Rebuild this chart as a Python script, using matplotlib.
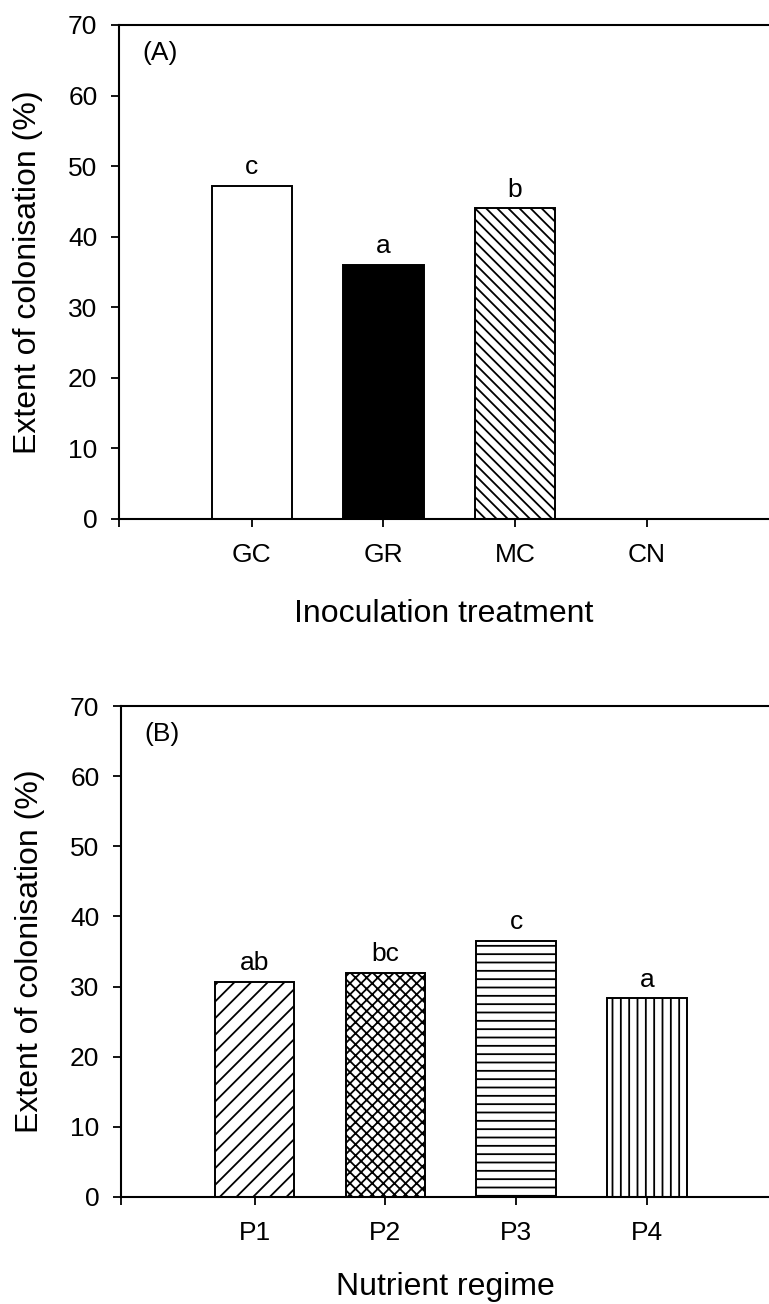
"""Extent of colonisation by inoculation treatment (A) and nutrient regime (B)."""

import matplotlib

matplotlib.use("Agg")
import matplotlib.pyplot as plt  # noqa: E402

plt.rcParams["font.family"] = ["Liberation Sans", "DejaVu Sans"]
plt.rcParams["hatch.linewidth"] = 1.3

# --- data ------------------------------------------------------------------
treatments = ["GC", "GR", "MC", "CN"]
treatment_values = [47.2, 36.0, 44.0, 0.0]
treatment_letters = ["c", "a", "b", ""]
treatment_colors = ["white", "black", "white", "white"]
treatment_hatches = ["", "", "\\\\\\", ""]

regimes = ["P1", "P2", "P3", "P4"]
regime_values = [30.6, 31.9, 36.5, 28.3]
regime_letters = ["ab", "bc", "c", "a"]
regime_hatches = ["//", "xxx", "--", "||"]

yticks = [0, 10, 20, 30, 40, 50, 60, 70]


def draw_panel(ax, cats, values, letters, colors, hatches, tag, xlabel, xleft,
               xlabelpad):
    pos = list(range(len(cats)))
    ax.bar(pos, values, width=0.61, color=colors, hatch=hatches,
           edgecolor="black", linewidth=1.4)
    for x, v, lab in zip(pos, values, letters):
        if lab:
            ax.annotate(lab, (x, v), xytext=(0, 5), textcoords="offset points",
                        ha="center", va="bottom", fontsize=19)
    ax.set_xlim(xleft, 3.93)
    ax.set_ylim(0, 70)
    ax.set_yticks(yticks)
    ax.set_xticks(pos)
    ax.set_xticklabels(cats)
    ax.set_xticks([xleft], minor=True)
    ax.tick_params(axis="both", which="both", direction="out", length=6,
                   width=1.3, labelsize=19)
    ax.tick_params(axis="x", pad=11.5)
    ax.tick_params(axis="y", pad=9.5)
    ax.spines["right"].set_visible(False)
    for s in ("left", "bottom", "top"):
        ax.spines[s].set_linewidth(1.5)
    ax.set_ylabel("Extent of colonisation (%)", fontsize=23, labelpad=18)
    ax.set_xlabel(xlabel, fontsize=23, labelpad=xlabelpad)
    ax.text(0.18 + xleft, 66.0, tag, fontsize=19, ha="left", va="center")


fig = plt.figure(figsize=(7.69, 13.04), dpi=100)
ax_a = fig.add_axes([119 / 769, 1 - 519 / 1304, 1 - 119 / 769, 494 / 1304])
ax_b = fig.add_axes([121 / 769, 1 - 1197 / 1304, 1 - 121 / 769, 491 / 1304])

draw_panel(ax_a, treatments, treatment_values, treatment_letters,
           treatment_colors, treatment_hatches, "(A)",
           "Inoculation treatment", -1.01, 23)
draw_panel(ax_b, regimes, regime_values, regime_letters,
           ["white"] * 4, regime_hatches, "(B)", "Nutrient regime", -1.02, 19)

fig.savefig("out.png", dpi=100)
